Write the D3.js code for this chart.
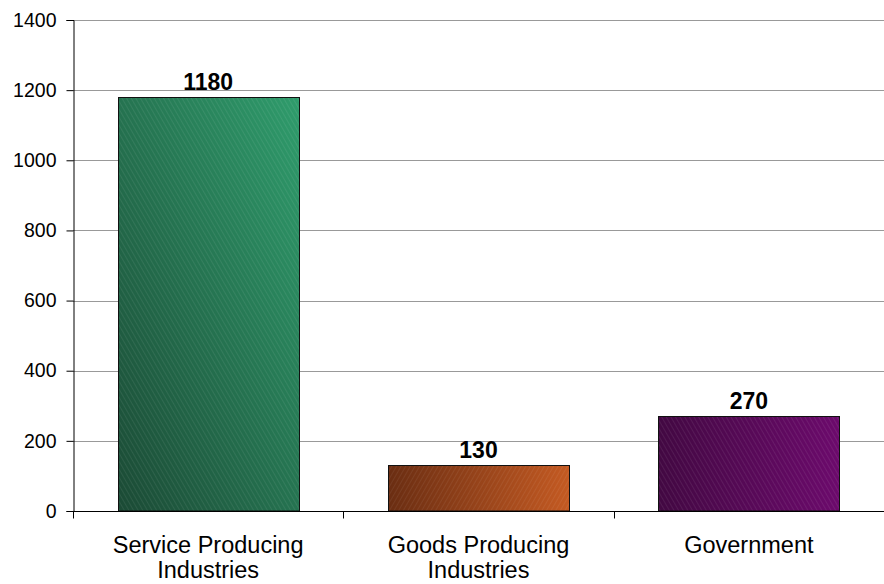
<!DOCTYPE html>
<html><head><meta charset="utf-8">
<script src="https://cdn.jsdelivr.net/npm/d3@7"></script>
<style>body{margin:0;background:#fff}svg{display:block;font-family:Arial,"Liberation Sans",sans-serif}</style>
</head><body><svg id="c" width="884" height="584"></svg>
<script>
const categories = ["Service Producing Industries", "Goods Producing Industries", "Government"];
const categoryLines = [["Service Producing", "Industries"], ["Goods Producing", "Industries"], ["Government"]];
const values = [1180, 130, 270];
const yTicks = [0, 200, 400, 600, 800, 1000, 1200, 1400];
const gradStops = [["#1b4a35", "#2f9c6c"], ["#6a2d12", "#c45a22"], ["#420842", "#6c0a6c"]];

const FONT = "Arial,'Liberation Sans',sans-serif";
const svg = d3.select("#c");
const m = {l: 73, r: 0, t: 20, b: 73};
const W = 884, H = 584;
const x = d3.scaleBand().domain(categories).range([m.l, W - m.r]).paddingInner(0).paddingOuter(0);
const y = d3.scaleLinear().domain([0, 1400]).range([H - m.b, m.t]);

const defs = svg.append("defs");
gradStops.forEach((s, i) => {
  const g = defs.append("linearGradient").attr("id", "g" + i)
    .attr("x1", "0").attr("y1", i === 0 ? "1" : "0.5").attr("x2", "1").attr("y2", i === 0 ? "0" : "0.5");
  g.append("stop").attr("offset", "0").attr("stop-color", s[0]);
  g.append("stop").attr("offset", "1").attr("stop-color", s[1]);
  const p = defs.append("pattern").attr("id", "h" + i).attr("patternUnits", "userSpaceOnUse")
    .attr("width", 4).attr("height", 4).attr("patternTransform", i === 1 ? "rotate(30)" : "rotate(-30)");
  p.append("line").attr("x1", 0).attr("y1", 0).attr("x2", 0).attr("y2", 4)
    .attr("stroke", "#fff").attr("stroke-opacity", i === 1 ? 0.12 : 0.15).attr("stroke-width", 1);
});

// gridlines
svg.append("g").selectAll("line").data(yTicks.filter(d => d > 0)).join("line")
  .attr("x1", m.l).attr("x2", W).attr("y1", d => Math.round(y(d)) + 0.5).attr("y2", d => Math.round(y(d)) + 0.5)
  .attr("stroke", "#999").attr("stroke-width", 1);

const bw = x.bandwidth() * 0.67;
const bars = svg.append("g");
categories.forEach((c, i) => {
  const bx = Math.round(x(c) + (x.bandwidth() - bw) / 2) + 0.5;
  const by = Math.round(y(values[i])) + 0.5;
  const bh = y(0) - by;
  bars.append("rect").attr("x", bx).attr("y", by).attr("width", Math.round(bw)).attr("height", bh)
    .attr("fill", "url(#g" + i + ")");
  bars.append("rect").attr("x", bx).attr("y", by).attr("width", Math.round(bw)).attr("height", bh)
    .attr("fill", "url(#h" + i + ")").attr("stroke", "#111").attr("stroke-width", 1);
  svg.append("text").attr("x", x(c) + x.bandwidth() / 2).attr("y", by - 8)
    .attr("text-anchor", "middle").style("font-weight", "bold").style("font-size", "23px")
    .style("font-family", FONT).attr("fill", "#000").text(values[i]);
});

// y axis
const ya = svg.append("g").attr("transform", `translate(${m.l + 0.5},0)`)
  .call(d3.axisLeft(y).tickValues(yTicks).tickSize(7).tickPadding(10).tickFormat(d3.format("d")));
ya.select(".domain").attr("stroke", "#000");
ya.selectAll(".tick line").attr("stroke", "#000");
ya.selectAll("text").style("font-size", "19.5px").style("font-family", FONT).attr("fill", "#000");

// x axis
const base = Math.round(y(0)) + 0.5;
svg.append("line").attr("x1", m.l).attr("x2", W).attr("y1", base).attr("y2", base).attr("stroke", "#000");
const bounds = [x.range()[0], ...categories.slice(1).map(c => x(c))];
svg.append("g").selectAll("line").data(bounds).join("line")
  .attr("x1", d => Math.round(d) + 0.5).attr("x2", d => Math.round(d) + 0.5)
  .attr("y1", base).attr("y2", base + 7).attr("stroke", "#000");
categories.forEach((c, i) => {
  const t = svg.append("text").attr("text-anchor", "middle").style("font-size", "23.5px")
    .style("font-family", FONT).attr("fill", "#000");
  categoryLines[i].forEach((ln, j) => {
    t.append("tspan").attr("x", x(c) + x.bandwidth() / 2).attr("y", 553 + j * 25).text(ln);
  });
});
</script></body></html>
